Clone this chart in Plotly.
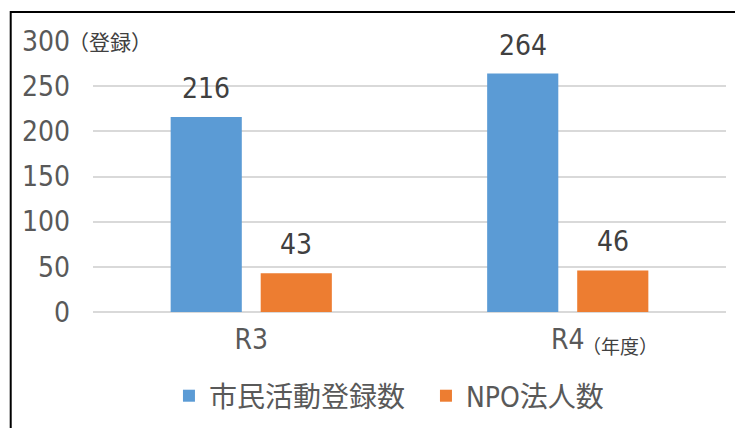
import plotly.graph_objects as go

categories = ["R3", "R4"]
series_names = ["市民活動登録数", "NPO法人数"]
civic_counts = [216, 264]
npo_counts = [43, 46]
y_ticks = [0, 50, 100, 150, 200, 250, 300]

FONT = "Liberation Sans Narrow, DejaVu Sans Condensed, Noto Sans CJK JP"
CJK = "Noto Sans CJK JP"
colors = ["#5B9BD5", "#ED7D31"]

fig = go.Figure()
for name, vals, col in zip(series_names, [civic_counts, npo_counts], colors):
    fig.add_trace(go.Bar(x=categories, y=vals, name=name, marker=dict(color=col, line=dict(width=0))))

annotations = []
shifts = [-45, 45]
for vals, sh in zip([civic_counts, npo_counts], shifts):
    for c, v in zip(categories, vals):
        annotations.append(dict(x=c, y=v, text=str(v), showarrow=False, xshift=sh,
                                yanchor="bottom", yshift=10,
                                font=dict(family=FONT, size=28, color="#404040")))
annotations.append(dict(xref="paper", yref="y", x=-0.043, y=300, text="（登録）", showarrow=False,
                        xanchor="left", yanchor="middle", font=dict(family=CJK, size=21, color="#404040")))
annotations.append(dict(xref="paper", yref="paper", x=0.769, y=-0.122, text="（年度）", showarrow=False,
                        xanchor="left", yanchor="middle", font=dict(family=CJK, size=19, color="#404040")))

fig.update_layout(
    width=743, height=428,
    margin=dict(l=85, r=25, t=33, b=124, autoexpand=False),
    paper_bgcolor="white", plot_bgcolor="white",
    barmode="group", bargap=0.431, bargroupgap=0.21,
    font=dict(family=FONT, color="#595959"),
    annotations=annotations,
    showlegend=True,
    legend=dict(orientation="h", x=0.12, xanchor="left", y=-0.31, yanchor="middle",
                font=dict(family=FONT, size=28, color="#595959"), entrywidth=212, entrywidthmode="pixels"),
    shapes=[dict(type="rect", xref="paper", yref="paper", x0=-0.13, x1=1.2, y0=-0.6, y1=1.107,
                 line=dict(color="black", width=2), layer="above")],
)
fig.update_yaxes(range=[0, 300], tickvals=y_ticks, showgrid=True, gridcolor="#D9D9D9", gridwidth=2,
                 zeroline=True, zerolinecolor="#D9D9D9", zerolinewidth=2, showline=False, automargin=False,
                 tickfont=dict(family=FONT, size=28, color="#595959"), ticklabelstandoff=22, fixedrange=True)
fig.update_xaxes(showline=False, showgrid=False, automargin=False,
                 tickfont=dict(family=FONT, size=28, color="#595959"), ticklabelstandoff=8)

fig.write_html("out.html")
